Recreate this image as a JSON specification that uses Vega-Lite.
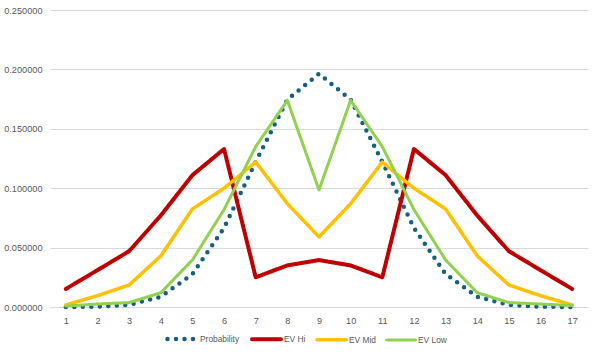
{
  "$schema": "https://vega.github.io/schema/vega-lite/v6.json",
  "width": 538,
  "height": 297,
  "autosize": {"type": "none"},
  "padding": {"left": 50, "top": 10, "right": 12, "bottom": 49},
  "background": "white",
  "config": {
    "view": {"stroke": null},
    "font": "Liberation Sans",
    "axis": {"labelColor": "#595959", "labelFontSize": 9.2, "ticks": false, "title": null},
    "legend": {
      "orient": "none",
      "legendX": 115,
      "legendY": 312,
      "direction": "horizontal",
      "symbolType": "stroke",
      "symbolSize": 841,
      "symbolStrokeWidth": 3.5,
      "labelFontSize": 8.4,
      "labelColor": "#595959",
      "labelOffset": 1,
      "columnPadding": 4,
      "padding": 0,
      "title": null
    }
  },
  "data": {
    "values": [
      {"x": 1, "series": "Probability", "value": 0.000015},
      {"x": 2, "series": "Probability", "value": 0.000244},
      {"x": 3, "series": "Probability", "value": 0.001831},
      {"x": 4, "series": "Probability", "value": 0.008545},
      {"x": 5, "series": "Probability", "value": 0.027771},
      {"x": 6, "series": "Probability", "value": 0.06665},
      {"x": 7, "series": "Probability", "value": 0.122192},
      {"x": 8, "series": "Probability", "value": 0.174561},
      {"x": 9, "series": "Probability", "value": 0.196381},
      {"x": 10, "series": "Probability", "value": 0.174561},
      {"x": 11, "series": "Probability", "value": 0.122192},
      {"x": 12, "series": "Probability", "value": 0.06665},
      {"x": 13, "series": "Probability", "value": 0.027771},
      {"x": 14, "series": "Probability", "value": 0.008545},
      {"x": 15, "series": "Probability", "value": 0.001831},
      {"x": 16, "series": "Probability", "value": 0.000244},
      {"x": 17, "series": "Probability", "value": 0.000015},
      {"x": 1, "series": "EV Hi", "value": 0.0152},
      {"x": 2, "series": "EV Hi", "value": 0.031},
      {"x": 3, "series": "EV Hi", "value": 0.047},
      {"x": 4, "series": "EV Hi", "value": 0.077},
      {"x": 5, "series": "EV Hi", "value": 0.111},
      {"x": 6, "series": "EV Hi", "value": 0.133},
      {"x": 7, "series": "EV Hi", "value": 0.025},
      {"x": 8, "series": "EV Hi", "value": 0.035},
      {"x": 9, "series": "EV Hi", "value": 0.0395},
      {"x": 10, "series": "EV Hi", "value": 0.035},
      {"x": 11, "series": "EV Hi", "value": 0.025},
      {"x": 12, "series": "EV Hi", "value": 0.133},
      {"x": 13, "series": "EV Hi", "value": 0.111},
      {"x": 14, "series": "EV Hi", "value": 0.077},
      {"x": 15, "series": "EV Hi", "value": 0.047},
      {"x": 16, "series": "EV Hi", "value": 0.031},
      {"x": 17, "series": "EV Hi", "value": 0.0152},
      {"x": 1, "series": "EV Mid", "value": 0.0017},
      {"x": 2, "series": "EV Mid", "value": 0.0095},
      {"x": 3, "series": "EV Mid", "value": 0.0185},
      {"x": 4, "series": "EV Mid", "value": 0.043},
      {"x": 5, "series": "EV Mid", "value": 0.0825},
      {"x": 6, "series": "EV Mid", "value": 0.1},
      {"x": 7, "series": "EV Mid", "value": 0.122},
      {"x": 8, "series": "EV Mid", "value": 0.087},
      {"x": 9, "series": "EV Mid", "value": 0.059},
      {"x": 10, "series": "EV Mid", "value": 0.087},
      {"x": 11, "series": "EV Mid", "value": 0.122},
      {"x": 12, "series": "EV Mid", "value": 0.1},
      {"x": 13, "series": "EV Mid", "value": 0.0825},
      {"x": 14, "series": "EV Mid", "value": 0.043},
      {"x": 15, "series": "EV Mid", "value": 0.0185},
      {"x": 16, "series": "EV Mid", "value": 0.0095},
      {"x": 17, "series": "EV Mid", "value": 0.0017},
      {"x": 1, "series": "EV Low", "value": 0.0008},
      {"x": 2, "series": "EV Low", "value": 0.0025},
      {"x": 3, "series": "EV Low", "value": 0.0037},
      {"x": 4, "series": "EV Low", "value": 0.012},
      {"x": 5, "series": "EV Low", "value": 0.0396},
      {"x": 6, "series": "EV Low", "value": 0.082},
      {"x": 7, "series": "EV Low", "value": 0.135},
      {"x": 8, "series": "EV Low", "value": 0.174},
      {"x": 9, "series": "EV Low", "value": 0.0985},
      {"x": 10, "series": "EV Low", "value": 0.174},
      {"x": 11, "series": "EV Low", "value": 0.135},
      {"x": 12, "series": "EV Low", "value": 0.082},
      {"x": 13, "series": "EV Low", "value": 0.0396},
      {"x": 14, "series": "EV Low", "value": 0.012},
      {"x": 15, "series": "EV Low", "value": 0.0037},
      {"x": 16, "series": "EV Low", "value": 0.0025},
      {"x": 17, "series": "EV Low", "value": 0.0012}
    ]
  },
  "mark": {"type": "line", "strokeCap": "round", "strokeJoin": "round"},
  "encoding": {
    "x": {
      "field": "x",
      "type": "ordinal",
      "scale": {"type": "point", "padding": 0.5},
      "axis": {"labelAngle": 0, "domainColor": "#d9d9d9", "domainWidth": 1, "labelPadding": 9, "grid": false}
    },
    "y": {
      "field": "value",
      "type": "quantitative",
      "scale": {"domain": [0, 0.25]},
      "axis": {"format": ".6f", "values": [0, 0.05, 0.1, 0.15, 0.2, 0.25], "domain": false, "gridColor": "#d9d9d9", "labelPadding": 8}
    },
    "color": {
      "field": "series",
      "type": "nominal",
      "scale": {"domain": ["Probability", "EV Hi", "EV Mid", "EV Low"], "range": ["#156082", "#C00000", "#FFC000", "#92D050"]},
      "legend": {"encode": {"symbols": {"update": {"strokeCap": {"value": "round"}}}}}
    },
    "strokeDash": {
      "field": "series",
      "type": "nominal",
      "scale": {"domain": ["Probability", "EV Hi", "EV Mid", "EV Low"], "range": [[0, 8.5], [1, 0], [1, 0], [1, 0]]}
    },
    "strokeWidth": {
      "field": "series",
      "type": "nominal",
      "scale": {"domain": ["Probability", "EV Hi", "EV Mid", "EV Low"], "range": [4.5, 3, 3, 3]}
    }
  }
}
